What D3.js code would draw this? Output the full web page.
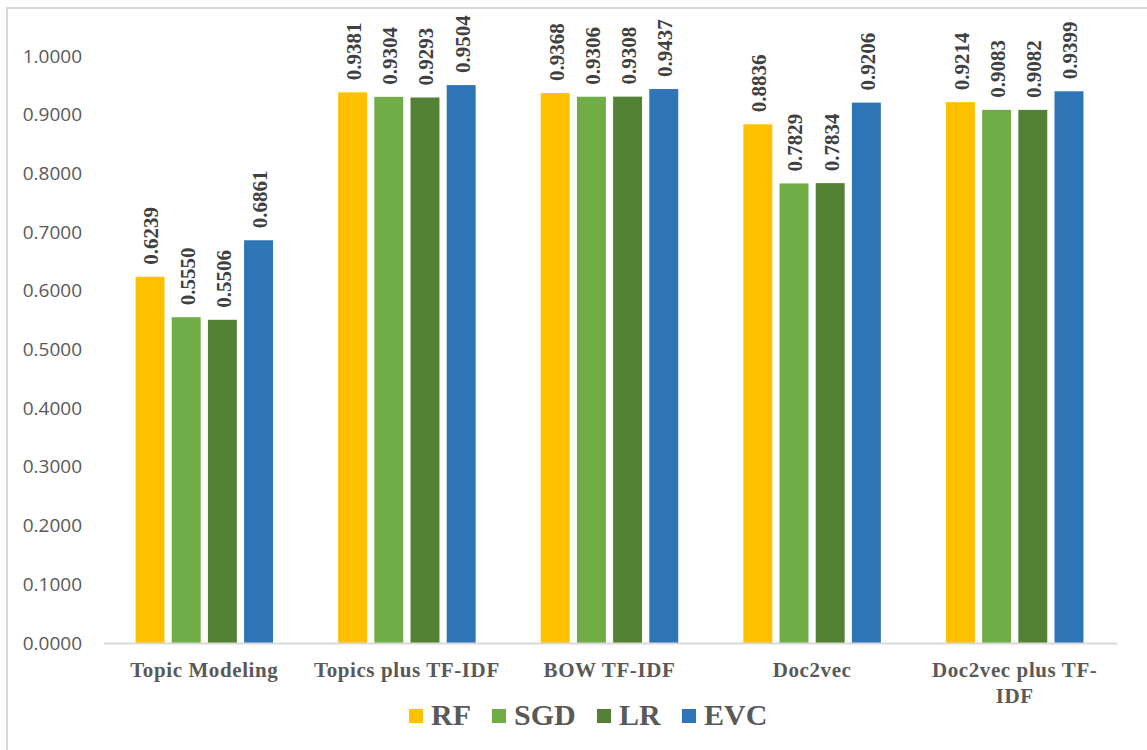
<!DOCTYPE html>
<html>
<head>
<meta charset="utf-8">
<script src="https://cdn.jsdelivr.net/npm/d3@7"></script>
<style>
  html, body { margin: 0; padding: 0; background: #fff; }
  svg { display: block; }
</style>
</head>
<body>
<svg id="chart" width="1147" height="750"></svg>
<script>
// Accuracy of each classifier per feature representation
const categories = ["Topic Modeling", "Topics plus TF-IDF", "BOW TF-IDF", "Doc2vec", "Doc2vec plus TF-IDF"];
const seriesNames = ["RF", "SGD", "LR", "EVC"];
const rfValues  = [0.6239, 0.9381, 0.9368, 0.8836, 0.9214];
const sgdValues = [0.5550, 0.9304, 0.9306, 0.7829, 0.9083];
const lrValues  = [0.5506, 0.9293, 0.9308, 0.7834, 0.9082];
const evcValues = [0.6861, 0.9504, 0.9437, 0.9206, 0.9399];
const yTicks = [0, 0.1, 0.2, 0.3, 0.4, 0.5, 0.6, 0.7, 0.8, 0.9, 1.0];
// Category labels split over lines as they wrap under the axis
const categoryLines = [["Topic Modeling"], ["Topics plus TF-IDF"], ["BOW TF-IDF"], ["Doc2vec"], ["Doc2vec plus TF-", "IDF"]];

const colors = { RF: "#FFC000", SGD: "#70AD47", LR: "#548235", EVC: "#2E75B6" };
const seriesValues = { RF: rfValues, SGD: sgdValues, LR: lrValues, EVC: evcValues };

const svg = d3.select("#chart");

// Outer frame
svg.append("path")
  .attr("d", "M7,751 L7,8 L1148,8")
  .attr("fill", "none")
  .attr("stroke", "#d9d9d9")
  .attr("stroke-width", 2);

const plot = { left: 104, right: 1117, top: 56, bottom: 643 };

const x0 = d3.scaleBand().domain(categories).range([plot.left, plot.right]);
const x1 = d3.scaleBand().domain(seriesNames).range([0, x0.bandwidth()])
  .paddingInner(0.2).paddingOuter(0.9);
const y = d3.scaleLinear().domain([0, 1]).range([plot.bottom, plot.top]);

// Y axis labels (no axis line, no gridlines)
const yAxis = d3.axisLeft(y).tickValues(yTicks).tickFormat(d3.format(".4f")).tickSize(0).tickPadding(0);
const yG = svg.append("g").attr("transform", "translate(82,0)").call(yAxis);
yG.select(".domain").remove();
yG.selectAll("text")
  .attr("font-family", "'Open Sans', sans-serif")
  .attr("font-size", 19)
  .attr("fill", "#595959");

// Bars
const groups = svg.append("g").selectAll("g")
  .data(categories)
  .join("g")
  .attr("transform", d => `translate(${x0(d) - 1},0)`);

const rows = (c, i) => seriesNames.map(s => ({ series: s, value: seriesValues[s][i] }));

groups.selectAll("rect")
  .data(rows)
  .join("rect")
  .attr("x", d => x1(d.series))
  .attr("width", x1.bandwidth())
  .attr("y", d => y(d.value))
  .attr("height", d => y(0) - y(d.value))
  .attr("fill", d => colors[d.series]);

// Value labels, rotated above each bar
groups.selectAll("text.val")
  .data(rows)
  .join("text")
  .attr("class", "val")
  .attr("transform", d => `translate(${x1(d.series) + x1.bandwidth() / 2 + 1},${y(d.value) - 12}) rotate(-90)`)
  .attr("text-anchor", "start")
  .attr("dy", "0.35em")
  .attr("font-family", "'Liberation Serif', 'Times New Roman', serif")
  .attr("font-weight", "bold")
  .attr("font-size", 21)
  .attr("fill", "#404040")
  .text(d => d.value.toFixed(4));

// X axis baseline
svg.append("line")
  .attr("x1", plot.left).attr("x2", plot.right)
  .attr("y1", y(0) + 0.5).attr("y2", y(0) + 0.5)
  .attr("stroke", "#d9d9d9")
  .attr("stroke-width", 2);

// Category labels
const catG = svg.append("g");
categories.forEach((c, i) => {
  const cx = x0(c) + x0.bandwidth() / 2 - 1;
  const t = catG.append("text")
    .attr("x", cx)
    .attr("y", 677)
    .attr("text-anchor", "middle")
    .attr("font-family", "'Liberation Serif', 'Times New Roman', serif")
    .attr("font-weight", "bold")
    .attr("font-size", 21)
    .attr("letter-spacing", 0.6)
    .attr("fill", "#595959");
  categoryLines[i].forEach((line, j) => {
    t.append("tspan")
      .attr("x", cx)
      .attr("dy", j === 0 ? 0 : 26)
      .text(line);
  });
});

// Legend
const legendX = [409, 492, 597, 682];
const legend = svg.append("g");
seriesNames.forEach((s, i) => {
  legend.append("rect")
    .attr("x", legendX[i]).attr("y", 709)
    .attr("width", 14).attr("height", 14)
    .attr("fill", colors[s]);
  legend.append("text")
    .attr("x", legendX[i] + 22).attr("y", 725)
    .attr("font-family", "'Liberation Serif', 'Times New Roman', serif")
    .attr("font-weight", "bold")
    .attr("font-size", 30)
    .attr("fill", "#595959")
    .text(s);
});
</script>
</body>
</html>
